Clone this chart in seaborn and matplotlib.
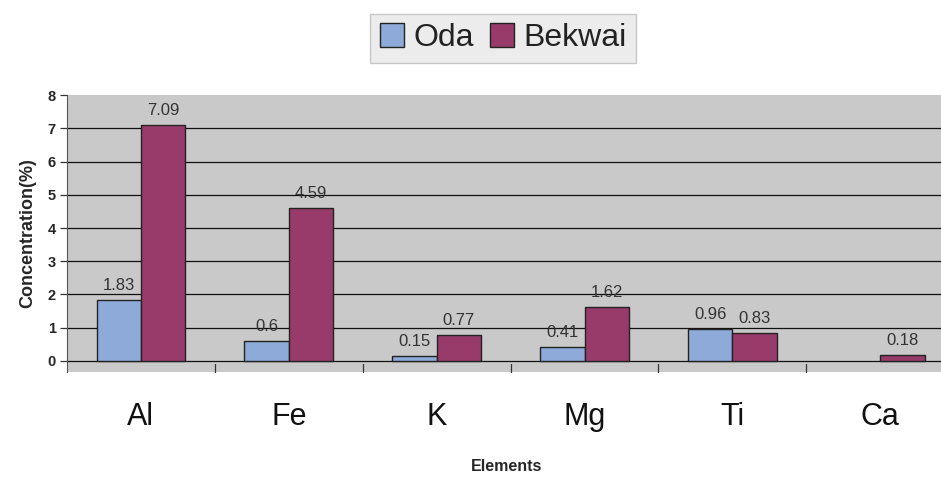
import numpy as np
import pandas as pd
import matplotlib
matplotlib.use("Agg")
import matplotlib.pyplot as plt
import seaborn as sns
from matplotlib.patches import Patch

elements = ["Al", "Fe", "K", "Mg", "Ti", "Ca"]
oda = [1.83, 0.6, 0.15, 0.41, 0.96, np.nan]
bekwai = [7.09, 4.59, 0.77, 1.62, 0.83, 0.18]
series = ["Oda", "Bekwai"]
yticks = [0, 1, 2, 3, 4, 5, 6, 7, 8]

df = pd.DataFrame({
    "Elements": elements * 2,
    "Site": [series[0]] * len(elements) + [series[1]] * len(elements),
    "Concentration": oda + bekwai,
})

sns.set_style("white")
plt.rcParams["font.family"] = ["Liberation Sans", "DejaVu Sans"]

fig = plt.figure(figsize=(9.41, 4.78), dpi=100)
ax = fig.add_axes([0.0712, 0.222, 0.935, 0.579])
ax.set_facecolor("#c9c9c9")

colors = {"Oda": "#8eaad8", "Bekwai": "#983a6a"}
sns.barplot(data=df, x="Elements", y="Concentration", hue="Site",
            order=elements, hue_order=series, palette=colors, saturation=1,
            width=0.6, edgecolor="#222222", linewidth=1.0, ax=ax,
            legend=False, zorder=3)

# value labels above each drawn bar
for cont in ax.containers:
    for bar in cont:
        if bar is None:
            continue
        h = bar.get_height()
        if np.isnan(h):
            continue
        ax.annotate(f"{h:g}", (bar.get_x() + bar.get_width() / 2, h),
                    xytext=(0, 5), textcoords="offset points",
                    ha="center", va="bottom", fontsize=12, color="#333333")

ax.set_ylim(-0.33, 8)
ax.set_xlim(-0.5, 5.45)
ax.set_yticks(yticks)
ax.set_yticklabels([str(t) for t in yticks], fontsize=10.5, fontweight="bold")
for y in yticks[:-1]:
    ax.axhline(y, color="#111111", linewidth=0.9, zorder=1)

ax.tick_params(axis="y", length=5, width=0.9, color="#333333", pad=3, left=True)
ax.tick_params(axis="x", length=0, labelsize=22, pad=22, labelcolor="#111111")

# category boundary marks below the zero line
for b in np.arange(0.5, 5.0, 1.0):
    ax.plot([b, b], [-0.33, -0.1], color="#333333", lw=0.9, zorder=4,
            clip_on=False)

for s in ["top", "right"]:
    ax.spines[s].set_visible(False)
ax.spines["left"].set_color("#555555")
ax.spines["bottom"].set_visible(False)

ax.set_xlabel("Elements", fontsize=11.5, fontweight="bold", labelpad=19)
ax.set_ylabel("Concentration(%)", fontsize=13, fontweight="bold", labelpad=8)

# legend box
handles = [Patch(facecolor=colors[s], edgecolor="#222222", label=s) for s in series]
leg = fig.legend(handles=handles, loc="center", bbox_to_anchor=(0.535, 0.92),
                 ncol=2, fontsize=23, frameon=True, fancybox=False,
                 handlelength=0.75, handleheight=0.75, handletextpad=0.3,
                 columnspacing=0.5, borderpad=0.3, shadow=False)
leg.get_frame().set_facecolor("#e8e8e8")
leg.get_frame().set_edgecolor("#bbbbbb")
for t in leg.get_texts():
    t.set_color("#222222")

fig.savefig("out.png", dpi=100)
